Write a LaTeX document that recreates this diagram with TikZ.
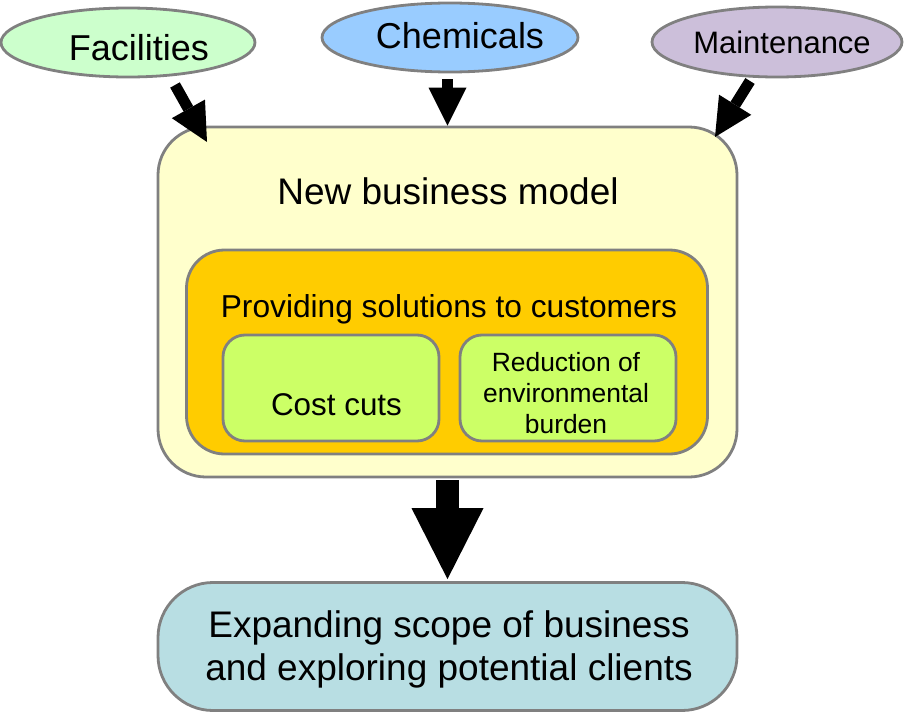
\documentclass[tikz,border=0pt]{standalone}
\usepackage{fontspec}
\setmainfont{Liberation Sans}
\usetikzlibrary{arrows.meta,shapes.geometric}
\definecolor{facgreen}{rgb}{0.8,1,0.8}
\definecolor{chemblue}{rgb}{0.6,0.8,1}
\definecolor{maintlila}{rgb}{0.8,0.75,0.855}
\definecolor{modelyellow}{rgb}{1,1,0.8}
\definecolor{solorange}{rgb}{1,0.8,0}
\definecolor{limegreen}{rgb}{0.8,1,0.4}
\definecolor{scopeteal}{rgb}{0.72,0.87,0.89}
\definecolor{bordergray}{rgb}{0.5,0.5,0.5}
\tikzset{
  source/.style={ellipse,draw=bordergray,line width=2.8pt,inner sep=0pt},
  panel/.style={rectangle,draw=bordergray,line width=2.8pt,inner sep=0pt},
  feed/.style={line width=11pt,line cap=butt,-{Triangle[length=38pt,width=38pt,line width=0pt]}},
  bigfeed/.style={line width=23pt,line cap=butt,-{Triangle[length=71pt,width=72pt,line width=0pt]}}
}
\begin{document}
\begin{tikzpicture}[x=1pt,y=-1pt,line cap=round,line join=round]
		\useasboundingbox (0,0) rectangle (905,712);
		% inputs
		\node[source,fill=facgreen,minimum width=254pt,minimum height=69pt] (fac) at (128,42.5) {};
		\node[source,fill=chemblue,minimum width=256pt,minimum height=69pt] (chem) at (450,37.5) {};
		\node[source,fill=maintlila,minimum width=250pt,minimum height=70pt] (maint) at (777,42) {};
		\node[anchor=base,font=\fontsize{36}{40}\selectfont] (facTxt) at (139,60) {Facilities};
		\node[anchor=base,font=\fontsize{36}{40}\selectfont] (chemTxt) at (460,48) {Chemicals};
		\node[anchor=base,font=\fontsize{31}{36}\selectfont] (maintTxt) at (782,53) {Maintenance};
		% model
		\node[panel,rounded corners=48pt,fill=modelyellow,minimum width=579pt,minimum height=350pt] (model) at (447.5,302) {};
		\node[anchor=base,font=\fontsize{37}{42}\selectfont] (modelTxt) at (448,204) {New business model};
		\node[panel,rounded corners=38pt,fill=solorange,minimum width=521pt,minimum height=204pt] (sol) at (447,352) {};
		\node[anchor=base,font=\fontsize{31.7}{36}\selectfont] (solTxt) at (449,317) {Providing solutions to customers};
		\node[panel,rounded corners=22pt,fill=limegreen,minimum width=216pt,minimum height=106pt] (cost) at (331,388) {};
		\node[panel,rounded corners=22pt,fill=limegreen,minimum width=216pt,minimum height=106pt] (burden) at (568,388) {};
		\node[anchor=base,font=\fontsize{31.4}{36}\selectfont] (costTxt) at (336.5,415) {Cost cuts};
		\node[align=center,font=\fontsize{26.4}{31}\selectfont] (burdenTxt) at (566,393) {Reduction of\\environmental\\burden};
		% result
		\node[panel,rounded corners=55pt,fill=scopeteal,minimum width=579pt,minimum height=128pt] (scope) at (447.5,646.5) {};
		\node[align=center,font=\fontsize{37}{43}\selectfont] (scopeTxt) at (449,649) {Expanding scope of business\\and exploring potential clients};
		% arrows
		\coordinate (facOut) at (175,85);
		\coordinate (facIn) at (207,142);
		\coordinate (maintOut) at (750,81);
		\coordinate (maintIn) at (715,137);
		\draw[feed] (facOut) -- (facIn);
		\draw[feed] ([yshift=-6pt]chem.south -| model.north) -- (model.north);
		\draw[feed] (maintOut) -- (maintIn);
		\draw[bigfeed] ([yshift=-2pt]model.south) -- ([yshift=2pt]scope.north);
\end{tikzpicture}
\end{document}
